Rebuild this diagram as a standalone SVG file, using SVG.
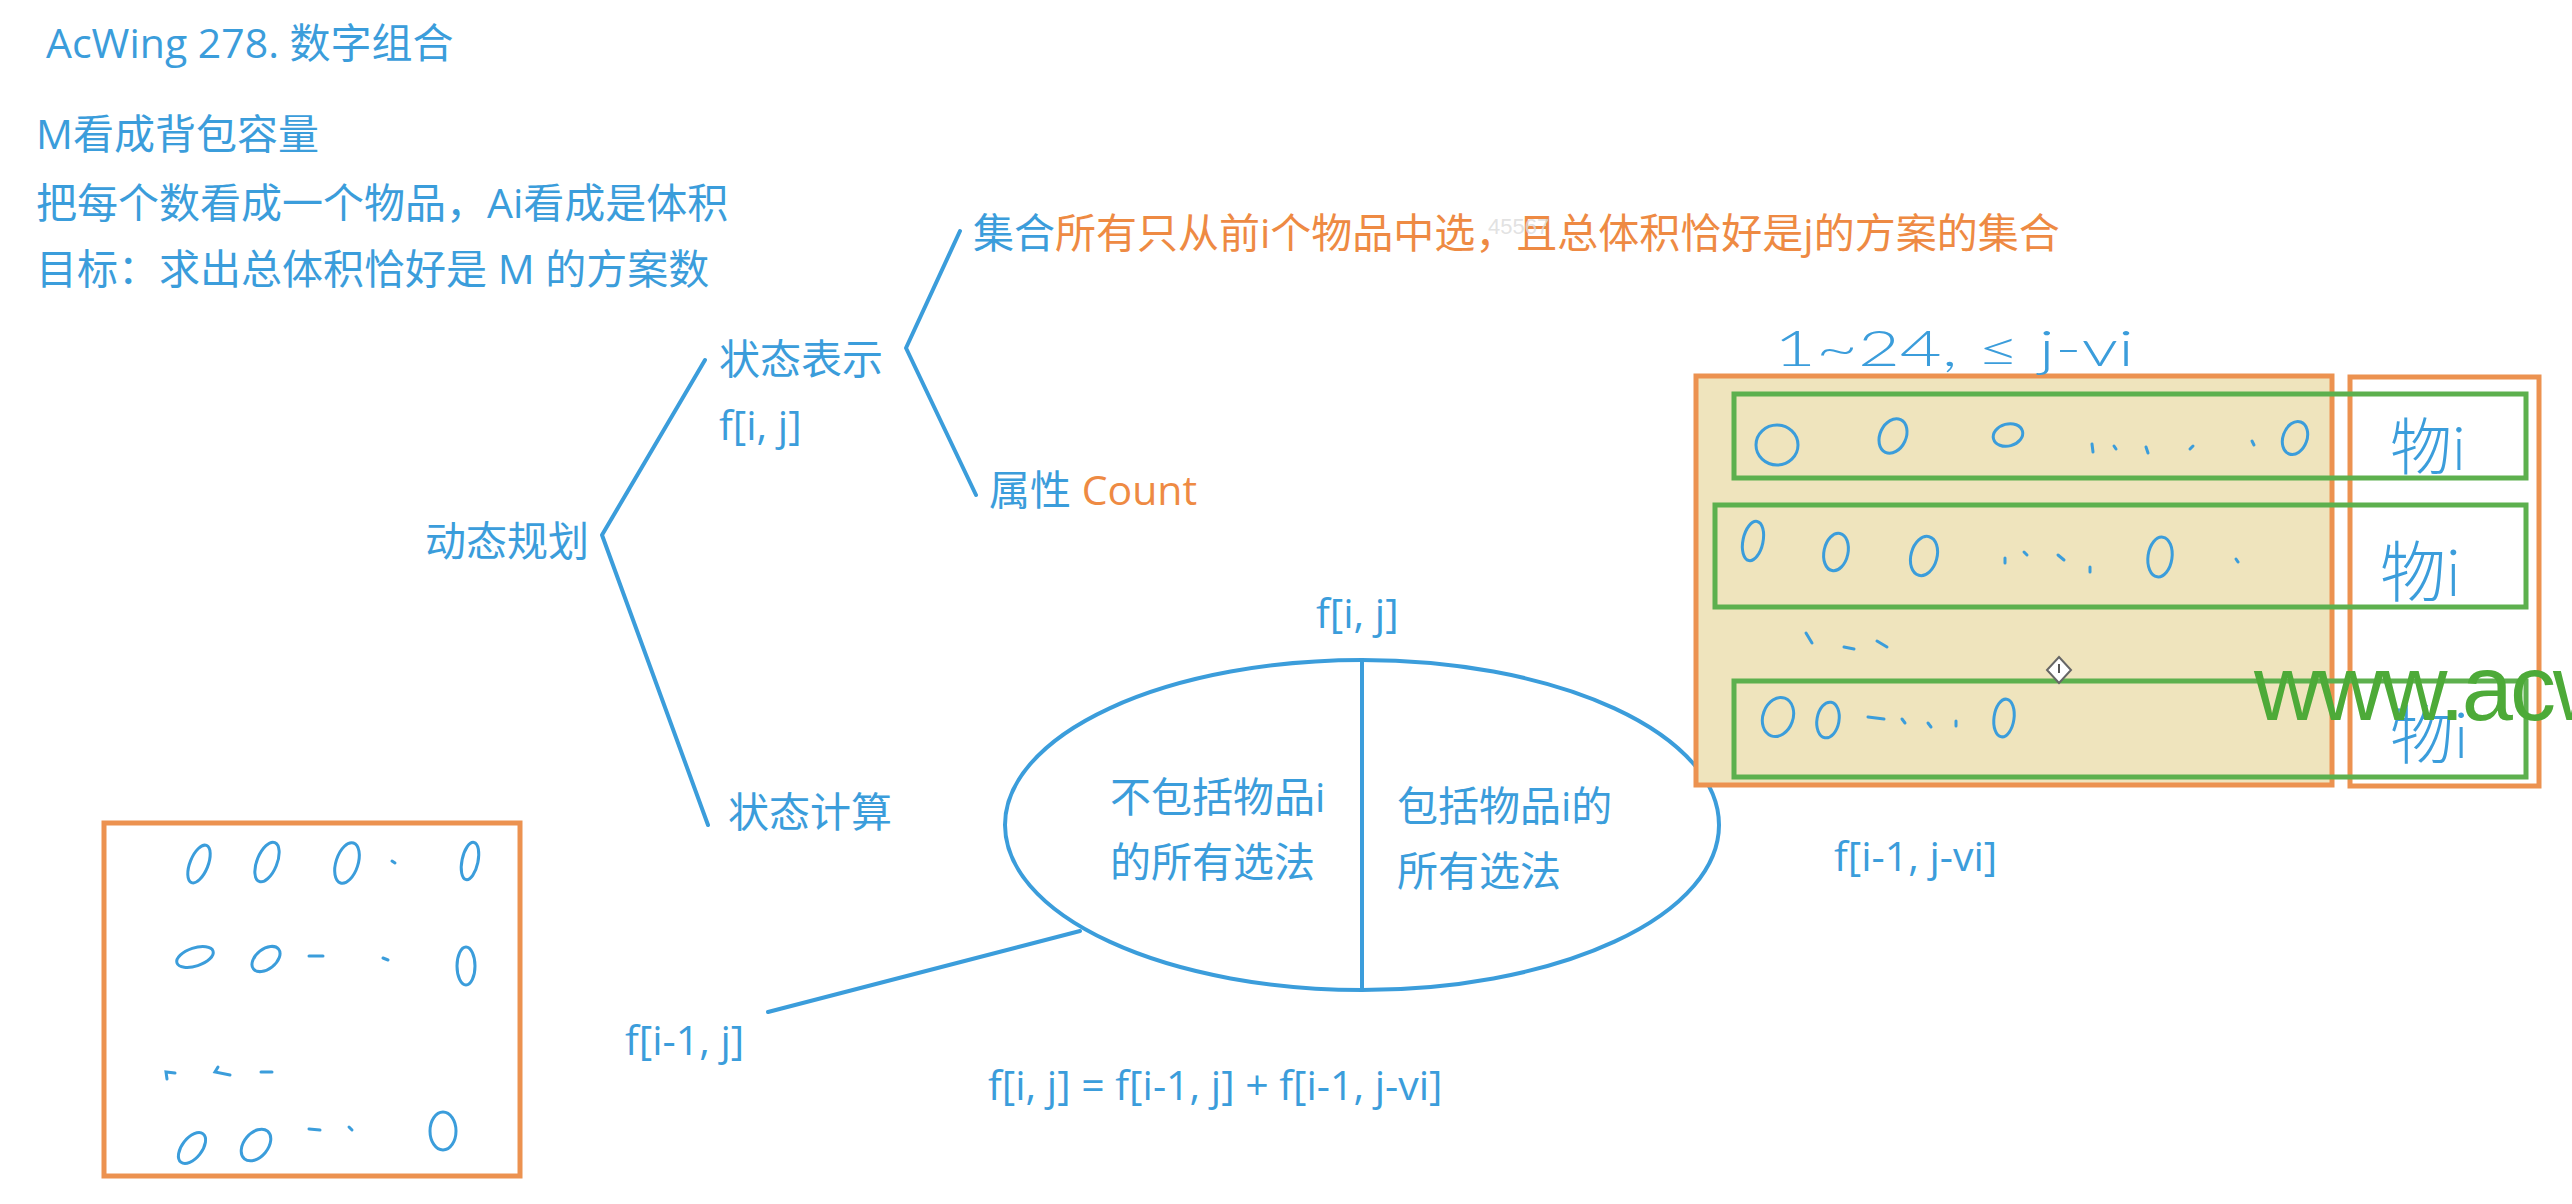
<svg xmlns="http://www.w3.org/2000/svg" width="2572" height="1204" viewBox="0 0 2572 1204">
<style>
  .t { font-family: "Open Sans", "Noto Sans CJK SC", sans-serif; font-size: 41px; fill: #3B9DDB; }
  .o { fill: #EE8A43; }
  .ln { stroke: #3B9DDB; stroke-width: 4; fill: none; stroke-linecap: round; stroke-linejoin: round; }
  .ob { stroke: #EC9250; stroke-width: 5; }
  .gb { stroke: #5DB04E; stroke-width: 5; fill: none; }
  .hw { stroke: #3B9DDB; stroke-width: 3; fill: none; stroke-linecap: round; }
  .hwt { font-family: "Lato", "Noto Sans CJK SC", sans-serif; font-weight: 300; fill: #3B9DDB; }
</style>
<rect width="2572" height="1204" fill="#FFFFFF"/>

<g id="title"><text class="t" x="46" y="58">AcWing 278. 数字组合</text></g>
<g id="desc">
  <text class="t" x="36" y="149">M看成背包容量</text>
  <text class="t" x="36" y="218">把每个数看成一个物品，Ai看成是体积</text>
  <text class="t" x="36" y="284">目标：求出总体积恰好是 M 的方案数</text>
</g>

<g id="connectors">
  <polyline class="ln" points="705,360 602,535 708,825"/>
  <polyline class="ln" points="960,231 906,348 976,495"/>
  <line class="ln" x1="768" y1="1012" x2="1080" y2="931"/>
</g>

<g id="node-dp"><text class="t" x="425" y="556">动态规划</text></g>
<g id="node-state"><text class="t" x="719" y="374">状态表示</text><text class="t" x="719" y="440">f[i, j]</text></g>
<g id="node-set"><text class="t" x="973" y="248">集合<tspan class="o">所有只从前i个物品中选，且总体积恰好是j的方案的集合</tspan></text></g>
<g id="watermark-id"><text x="1488" y="234" font-family="Liberation Sans, sans-serif" font-size="22" fill="#DADADA" fill-opacity="0.8">45567</text></g>
<g id="node-attr"><text class="t" x="989" y="505">属性 <tspan class="o">Count</tspan></text></g>
<g id="node-calc"><text class="t" x="728" y="827">状态计算</text></g>

<g id="node-split">
  <text class="t" x="1316" y="628">f[i, j]</text>
  <ellipse class="ln" cx="1362" cy="825" rx="357" ry="165"/>
  <line class="ln" x1="1362" y1="660" x2="1362" y2="990"/>
  <text class="t" x="1110" y="812">不包括物品i</text>
  <text class="t" x="1110" y="877">的所有选法</text>
  <text class="t" x="1397" y="821">包括物品i的</text>
  <text class="t" x="1397" y="886">所有选法</text>
</g>
<g id="node-left"><text class="t" x="625" y="1055">f[i-1, j]</text></g>
<g id="node-formula"><text class="t" x="988" y="1100">f[i, j] = f[i-1, j] + f[i-1, j-vi]</text></g>
<g id="node-right"><text class="t" x="1834" y="871">f[i-1, j-vi]</text></g>

<g id="left-box">
  <rect x="104" y="823" width="416" height="353" fill="#FFFFFF" class="ob"/>
  <ellipse class="hw" cx="199" cy="864" rx="9" ry="20" transform="rotate(22 199 864)"/>
  <ellipse class="hw" cx="267" cy="862" rx="10" ry="21" transform="rotate(22 267 862)"/>
  <ellipse class="hw" cx="347" cy="863" rx="11" ry="21" transform="rotate(18 347 863)"/>
  <line class="hw" x1="392" y1="861" x2="395" y2="863"/>
  <ellipse class="hw" cx="470" cy="861" rx="8" ry="19" transform="rotate(12 470 861)"/>
  <ellipse class="hw" cx="195" cy="957" rx="19" ry="9" transform="rotate(-18 195 957)"/>
  <ellipse class="hw" cx="266" cy="959" rx="16" ry="10" transform="rotate(-38 266 959)"/>
  <line class="hw" x1="309" y1="956" x2="323" y2="956"/>
  <line class="hw" x1="383" y1="958" x2="388" y2="960"/>
  <ellipse class="hw" cx="466" cy="966" rx="9" ry="19"/>
  <path class="hw" d="M167,1079 L166,1072 L175,1073"/>
  <path class="hw" d="M218,1067 L215,1072 L230,1075"/>
  <line class="hw" x1="261" y1="1072" x2="272" y2="1072"/>
  <ellipse class="hw" cx="192" cy="1148" rx="10" ry="18" transform="rotate(38 192 1148)"/>
  <ellipse class="hw" cx="256" cy="1145" rx="12" ry="18" transform="rotate(40 256 1145)"/>
  <line class="hw" x1="309" y1="1129" x2="320" y2="1130"/>
  <line class="hw" x1="349" y1="1127" x2="352" y2="1130"/>
  <ellipse class="hw" cx="443" cy="1131" rx="13" ry="19"/>
</g>

<g id="table">
  <rect x="1696" y="376" width="636" height="409" fill="#EFE4BD" class="ob"/>
  <rect x="2350" y="377" width="189" height="409" fill="#FFFFFF" class="ob"/>
  <rect class="gb" x="1734" y="394" width="792" height="84"/>
  <rect class="gb" x="1715" y="505" width="811" height="102"/>
  <rect class="gb" x="1734" y="681" width="792" height="96"/>
  <text class="hwt" x="1774" y="366" font-size="50" textLength="360" lengthAdjust="spacingAndGlyphs">1~24, ≤ j-vi</text>
  <ellipse class="hw" cx="1777" cy="445" rx="21" ry="20"/>
  <ellipse class="hw" cx="1893" cy="436" rx="13" ry="18" transform="rotate(25 1893 436)"/>
  <ellipse class="hw" cx="2008" cy="435" rx="15" ry="11" transform="rotate(-15 2008 435)"/>
  <line class="hw" x1="2092" y1="444" x2="2093" y2="452"/>
  <line class="hw" x1="2114" y1="446" x2="2116" y2="449"/>
  <line class="hw" x1="2146" y1="447" x2="2148" y2="453"/>
  <line class="hw" x1="2190" y1="449" x2="2193" y2="446"/>
  <line class="hw" x1="2252" y1="441" x2="2254" y2="445"/>
  <ellipse class="hw" cx="2295" cy="438" rx="12" ry="17" transform="rotate(20 2295 438)"/>
  <ellipse class="hw" cx="1753" cy="541" rx="10" ry="20" transform="rotate(12 1753 541)"/>
  <ellipse class="hw" cx="1836" cy="552" rx="12" ry="19" transform="rotate(12 1836 552)"/>
  <ellipse class="hw" cx="1924" cy="556" rx="13" ry="20" transform="rotate(15 1924 556)"/>
  <line class="hw" x1="2005" y1="558" x2="2005" y2="563"/>
  <line class="hw" x1="2024" y1="552" x2="2027" y2="555"/>
  <line class="hw" x1="2058" y1="555" x2="2064" y2="560"/>
  <line class="hw" x1="2090" y1="567" x2="2090" y2="572"/>
  <ellipse class="hw" cx="2160" cy="557" rx="12" ry="20" transform="rotate(8 2160 557)"/>
  <line class="hw" x1="2236" y1="559" x2="2238" y2="562"/>
  <line class="hw" x1="1806" y1="633" x2="1812" y2="643"/>
  <line class="hw" x1="1844" y1="647" x2="1854" y2="649"/>
  <line class="hw" x1="1877" y1="641" x2="1887" y2="647"/>
  <ellipse class="hw" cx="1778" cy="717" rx="15" ry="20" transform="rotate(20 1778 717)"/>
  <ellipse class="hw" cx="1828" cy="720" rx="11" ry="18" transform="rotate(10 1828 720)"/>
  <line class="hw" x1="1868" y1="717" x2="1884" y2="719"/>
  <line class="hw" x1="1902" y1="719" x2="1905" y2="723"/>
  <line class="hw" x1="1928" y1="723" x2="1931" y2="727"/>
  <line class="hw" x1="1956" y1="721" x2="1956" y2="726"/>
  <ellipse class="hw" cx="2004" cy="718" rx="10" ry="19" transform="rotate(8 2004 718)"/>
  <text class="hwt" x="2390" y="470" font-size="62">物i</text>
  <text class="hwt" x="2380" y="596" font-size="66">物i</text>
  <text class="hwt" x="2390" y="758" font-size="64">物i</text>
  <g id="cursor">
    <polygon points="2059,657 2071,670 2059,683 2047,670" fill="#FFFFFF" stroke="#666666" stroke-width="2"/>
    <line x1="2059" y1="664" x2="2059" y2="673" stroke="#555555" stroke-width="2"/>
  </g>
</g>

<g id="watermark"><text x="2254" y="720" font-family="Liberation Sans, Arial, sans-serif" font-size="92" fill="#4DAA38" letter-spacing="-3">www.acw</text></g>
</svg>
